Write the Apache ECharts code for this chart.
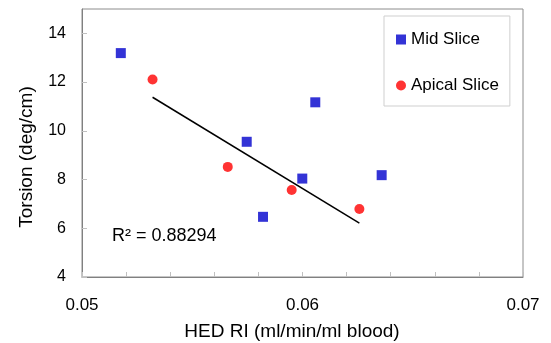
<!DOCTYPE html>
<html>
<head>
<meta charset="utf-8">
<script src="https://cdn.jsdelivr.net/npm/echarts@6/dist/echarts.min.js"></script>
<style>
  html, body { margin: 0; padding: 0; background: #fff; }
  #chart { width: 551px; height: 343px; }
</style>
</head>
<body>
<div id="chart"></div>
<script>
// values
const midX = [0.05176, 0.05747, 0.05821, 0.05999, 0.06058, 0.06359];
const midY = [13.19, 9.55, 6.47, 8.04, 11.17, 8.18];
const apicalX = [0.05320, 0.05661, 0.05951, 0.06258];
const apicalY = [12.11, 8.52, 7.57, 6.79];
const seriesNames = ['Mid Slice', 'Apical Slice'];
const xTicks = [0.05, 0.06, 0.07];
const yTicks = [4, 6, 8, 10, 12, 14];
const rSquaredLabel = 'R² = 0.88294';

// least squares line through the apical points (the trendline in the picture)
function linearFit(xs, ys) {
  const n = xs.length;
  const mx = xs.reduce((a, b) => a + b, 0) / n;
  const my = ys.reduce((a, b) => a + b, 0) / n;
  let sxy = 0, sxx = 0;
  for (let i = 0; i < n; i++) {
    sxy += (xs[i] - mx) * (ys[i] - my);
    sxx += (xs[i] - mx) * (xs[i] - mx);
  }
  const slope = sxy / sxx;
  return x => my + slope * (x - mx);
}
const fit = linearFit(apicalX, apicalY);
const xFirst = Math.min(...apicalX), xLast = Math.max(...apicalX);
const trendData = [[xFirst, fit(xFirst)], [xLast, fit(xLast)]];

const chart = echarts.init(document.getElementById('chart'), null, { renderer: 'canvas' });
const font = 'Liberation Sans, Arial, sans-serif';

chart.setOption({
  animation: false,
  backgroundColor: '#fff',
  textStyle: { fontFamily: font },
  grid: {
    left: 82, top: 9, right: 28, bottom: 66,
    show: true, borderColor: '#8c8c8c', borderWidth: 1, backgroundColor: '#fff'
  },
  legend: {
    orient: 'vertical',
    left: 384, top: 16,
    padding: [15, 11, 12, 12],
    itemGap: 29,
    itemWidth: 10, itemHeight: 10,
    borderColor: '#cfcfcf', borderWidth: 1,
    backgroundColor: '#fff',
    textStyle: { fontSize: 17, color: '#000', fontFamily: font },
    data: [
      { name: seriesNames[0], icon: 'rect' },
      { name: seriesNames[1], icon: 'circle' }
    ]
  },
  xAxis: {
    type: 'value',
    min: xTicks[0], max: xTicks[xTicks.length - 1], interval: 0.002,
    splitLine: { show: false },
    axisLine: { lineStyle: { color: '#808080' } },
    axisTick: { inside: true, length: 5, lineStyle: { color: '#c0c0c0' } },
    axisLabel: {
      margin: 20, fontSize: 17, color: '#000', fontFamily: font,
      formatter: v => {
        const hit = xTicks.find(t => Math.abs(t - v) < 1e-9);
        return hit === undefined ? '' : hit.toFixed(2);
      }
    }
  },
  yAxis: {
    type: 'value',
    min: yTicks[0], max: 15, interval: 2,
    splitLine: { show: false },
    axisLine: { show: true, lineStyle: { color: '#808080' } },
    axisTick: { inside: true, length: 5, lineStyle: { color: '#c0c0c0' } },
    axisLabel: {
      margin: 16, fontSize: 16, color: '#000', fontFamily: font, showMaxLabel: false,
      formatter: v => (yTicks.indexOf(v) >= 0 ? String(v) : '')
    }
  },
  graphic: [
    {
      type: 'text', x: 292, y: 332,
      style: { text: 'HED RI (ml/min/ml blood)', fill: '#000', font: '19px ' + font, align: 'center', verticalAlign: 'middle' }
    },
    {
      type: 'text', x: 27, y: 157, rotation: Math.PI / 2,
      style: { text: 'Torsion (deg/cm)', fill: '#000', font: '19px ' + font, align: 'center', verticalAlign: 'middle' }
    },
    {
      type: 'text', x: 112, y: 236,
      style: { text: rSquaredLabel, fill: '#000', font: '18px ' + font, verticalAlign: 'middle' }
    }
  ],
  series: [
    {
      name: seriesNames[0], type: 'scatter', symbol: 'rect', symbolSize: 10,
      itemStyle: { color: '#0000cc' },
      data: midX.map((x, i) => [x, midY[i]]),
      z: 3
    },
    {
      name: seriesNames[1], type: 'scatter', symbol: 'circle', symbolSize: 10,
      itemStyle: { color: '#ff0000' },
      data: apicalX.map((x, i) => [x, apicalY[i]]),
      z: 3
    },
    {
      name: 'trend', type: 'line', symbol: 'none', silent: true,
      lineStyle: { color: '#000', width: 1.5 },
      data: trendData, z: 2
    }
  ]
});
</script>
</body>
</html>
